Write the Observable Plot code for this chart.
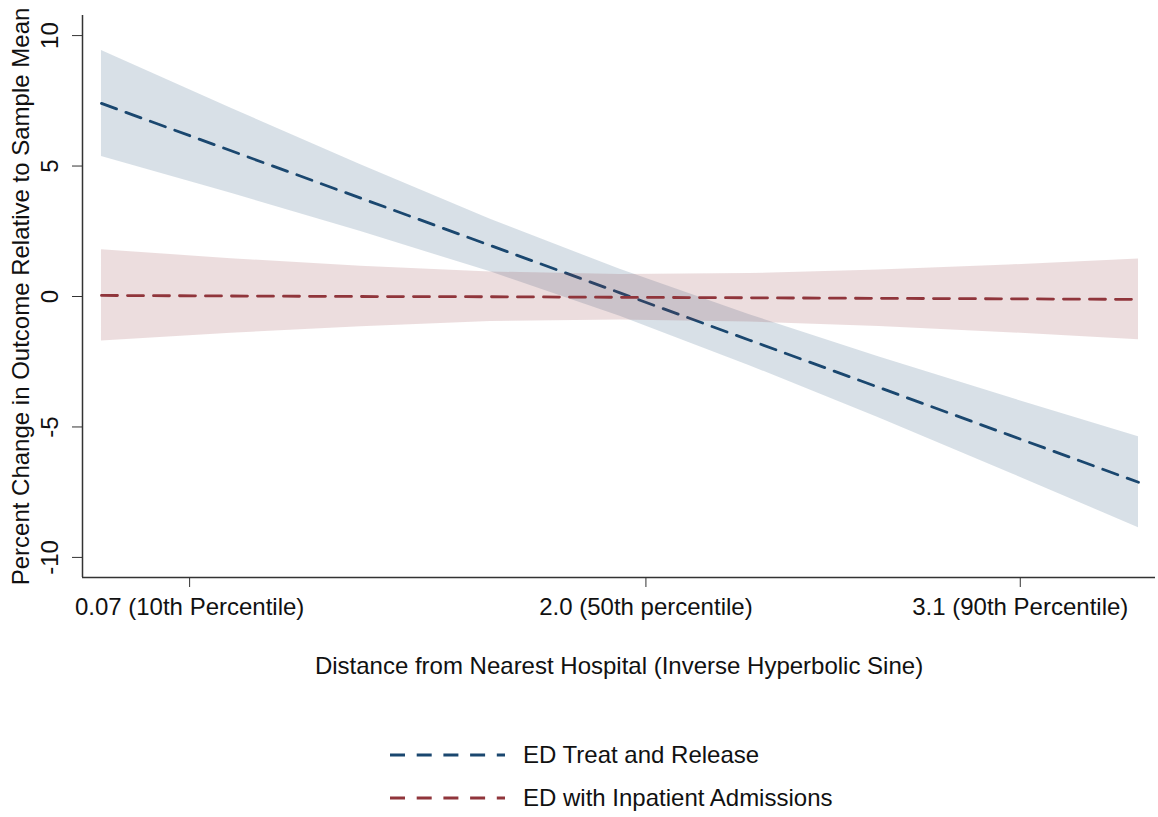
<!DOCTYPE html>
<html><head><meta charset="utf-8">
<script src="https://cdn.jsdelivr.net/npm/d3@7"></script>
<script src="https://cdn.jsdelivr.net/npm/@observablehq/plot@0.6"></script>
<style>
body{margin:0;background:#fff;font-family:"Liberation Sans",Arial,sans-serif;}
#chart{width:1158px;height:700px;}
#legend{position:relative;width:1158px;height:117px;}
.row{position:absolute;left:390px;height:40px;display:flex;align-items:center;font-size:24px;color:#111;white-space:nowrap}
.row svg{margin-right:18px}
</style></head><body><div id="chart"></div><div id="legend"></div>
<script>
// evaluation positions along the distance axis (0 = left end of fit, 1 = right end)
const pos = [0, 0.125, 0.25, 0.375, 0.5, 0.625, 0.75, 0.875, 1];
const series = ["ED Treat and Release", "ED with Inpatient Admissions"];
const colors = ["#1a476f", "#90353b"];

const treatFit = [7.40, 5.585, 3.77, 1.955, 0.14, -1.675, -3.49, -5.305, -7.12];
const treatHi  = [9.43, 7.215, 5.05, 2.965, 1.04, -0.70, -2.32, -3.865, -5.38];
const treatLo  = [5.37, 3.955, 2.49, 0.945, -0.76, -2.65, -4.66, -6.745, -8.86];

const inpatFit = [0.04, 0.02, 0.00, -0.01, -0.03, -0.05, -0.07, -0.09, -0.11];
const inpatHi  = [1.79, 1.45, 1.155, 0.94, 0.84, 0.877, 1.011, 1.207, 1.44];
const inpatLo  = [-1.71, -1.41, -1.155, -0.96, -0.90, -0.977, -1.151, -1.387, -1.66];

const xTicks = [0.085, 0.525, 0.886];
const xTickLabels = ["0.07 (10th Percentile)", "2.0 (50th percentile)", "3.1 (90th Percentile)"];
const yTicks = [10, 5, 0, -5, -10];
const xDomain = [-0.0183, 1.0164];
const yDomain = [-10.77, 10.77];
const xTitle = "Distance from Nearest Hospital (Inverse Hyperbolic Sine)";
const yTitle = "Percent Change in Outcome Relative to Sample Mean";

const rows = [];
pos.forEach((p, i) => rows.push({pos: p, fit: treatFit[i], lo: treatLo[i], hi: treatHi[i], series: series[0]}));
pos.forEach((p, i) => rows.push({pos: p, fit: inpatFit[i], lo: inpatLo[i], hi: inpatHi[i], series: series[1]}));
const treat = rows.filter(d => d.series === series[0]);
const inpat = rows.filter(d => d.series === series[1]);

const axisColor = "#333";
const chart = Plot.plot({
  width: 1158, height: 700,
  marginLeft: 82, marginRight: 3, marginTop: 15, marginBottom: 123,
  style: {fontFamily: '"Liberation Sans", Arial, sans-serif', fontSize: "24px", color: "#111", background: "#fff"},
  x: {domain: xDomain},
  y: {domain: yDomain},
  color: {domain: series, range: colors},
  marks: [
    Plot.areaY(treat, {x: "pos", y1: "lo", y2: "hi", fill: "series", fillOpacity: 0.17}),
    Plot.line(treat, {x: "pos", y: "fit", stroke: "series", strokeWidth: 2.8, strokeDasharray: "16,10"}),
    Plot.areaY(inpat, {x: "pos", y1: "lo", y2: "hi", fill: "series", fillOpacity: 0.17}),
    Plot.line(inpat, {x: "pos", y: "fit", stroke: "series", strokeWidth: 2.8, strokeDasharray: "16,10"}),
    Plot.ruleY([yDomain[0]], {stroke: axisColor, strokeWidth: 1.5}),
    Plot.ruleX([xDomain[0]], {stroke: axisColor, strokeWidth: 1.5}),
    Plot.axisX({ticks: xTicks, tickFormat: d => xTickLabels[xTicks.indexOf(d)], tickSize: 10, tickPadding: 10, fontSize: 24, stroke: axisColor, label: null}),
    Plot.axisY({ticks: yTicks, tickSize: 10, tickFormat: () => "", stroke: axisColor, label: null}),
    Plot.text(yTicks, {y: d => d, text: d => String(d), frameAnchor: "left", dx: -32, rotate: -90, textAnchor: "middle", lineAnchor: "middle", fontSize: 24, fill: "#111"}),
    Plot.text([yTitle], {frameAnchor: "left", dx: -61, rotate: -90, textAnchor: "middle", lineAnchor: "middle", fontSize: 24, fill: "#111"}),
    Plot.text([xTitle], {frameAnchor: "bottom", dy: 89, textAnchor: "middle", lineAnchor: "middle", fontSize: 24, fill: "#111"})
  ]
});
document.getElementById("chart").appendChild(chart);

const legend = document.getElementById("legend");
series.forEach((s, i) => {
  const row = document.createElement("div");
  row.className = "row";
  row.style.top = (35 + i * 43) + "px";
  row.innerHTML = `<svg width="115" height="10"><line x1="0" y1="5" x2="115" y2="5" stroke="${colors[i]}" stroke-width="2.8" stroke-dasharray="15,11.7"/></svg><span>${s}</span>`;
  legend.appendChild(row);
});
</script></body></html>
